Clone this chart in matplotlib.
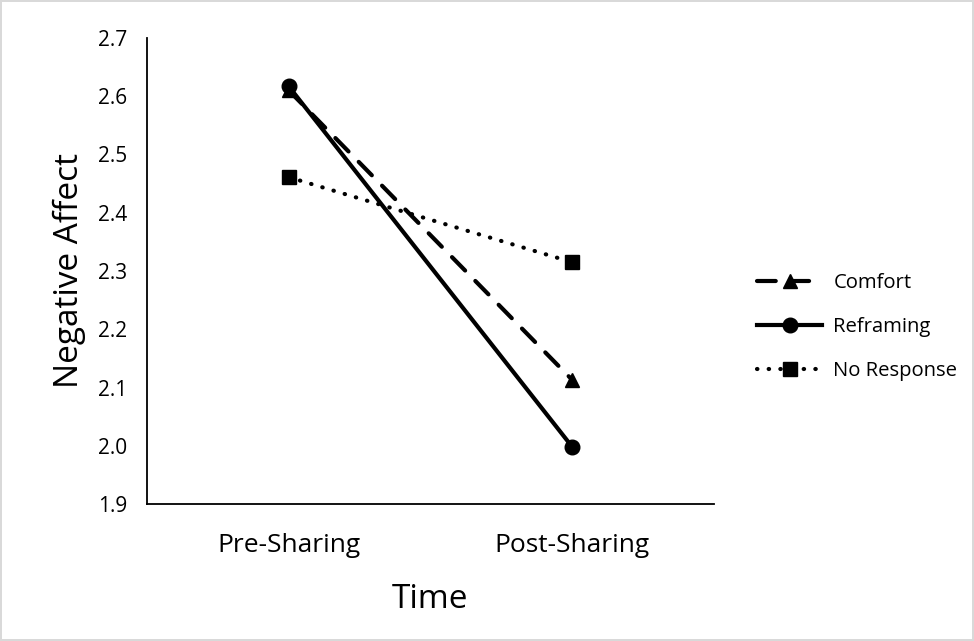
import matplotlib
matplotlib.use("Agg")
from matplotlib import pyplot as plt

categories = ["Pre-Sharing", "Post-Sharing"]
comfort = [2.61, 2.113]
reframing = [2.617, 1.998]
no_response = [2.461, 2.315]
yticks = [1.9, 2.0, 2.1, 2.2, 2.3, 2.4, 2.5, 2.6, 2.7]

plt.rcParams["font.family"] = ["Open Sans", "DejaVu Sans"]

fig = plt.figure(figsize=(9.74, 6.41), dpi=100)
fig.patch.set_edgecolor("#d9d9d9")
fig.patch.set_linewidth(1.5)
# axes box: x 147..714 px, y 38..504 px
ax = fig.add_axes([147 / 974, 1 - 504 / 641, 567 / 974, 466 / 641])

x = list(range(len(categories)))
ax.plot(x, comfort, color="black", lw=3, linestyle=(0, (4.5, 3.5)),
        dash_capstyle="round", marker="^", markersize=10, label="Comfort")
ax.plot(x, reframing, color="black", lw=3, marker="o", markersize=10.5,
        label="Reframing")
ax.plot(x, no_response, color="black", lw=3, linestyle=(0, (0.1, 2.7)),
        dash_capstyle="round", marker="s", markersize=10, label="No Response")

ax.set_xlim(-0.5, 1.5)
ax.set_ylim(1.9, 2.7)
ax.set_xticks(x)
ax.set_xticklabels(categories, fontsize=19)
ax.set_yticks(yticks)
ax.set_yticklabels(["%.1f" % v for v in yticks], fontsize=15)
ax.tick_params(length=0)
ax.tick_params(axis="y", pad=14)
ax.tick_params(axis="x", pad=21)
for side in ["top", "right"]:
    ax.spines[side].set_visible(False)
for side in ["left", "bottom"]:
    ax.spines[side].set_linewidth(1.3)
ax.set_ylabel("Negative Affect", fontsize=24, labelpad=9)
ax.set_xlabel("Time", fontsize=24, labelpad=18)

ax.legend(loc="center left", bbox_to_anchor=(739 / 974, 1 - 327 / 641),
          bbox_transform=fig.transFigure, frameon=False, fontsize=14.6,
          handlelength=3.2, labelspacing=1.2, handletextpad=0.55)

fig.savefig("out.png", dpi=100)
